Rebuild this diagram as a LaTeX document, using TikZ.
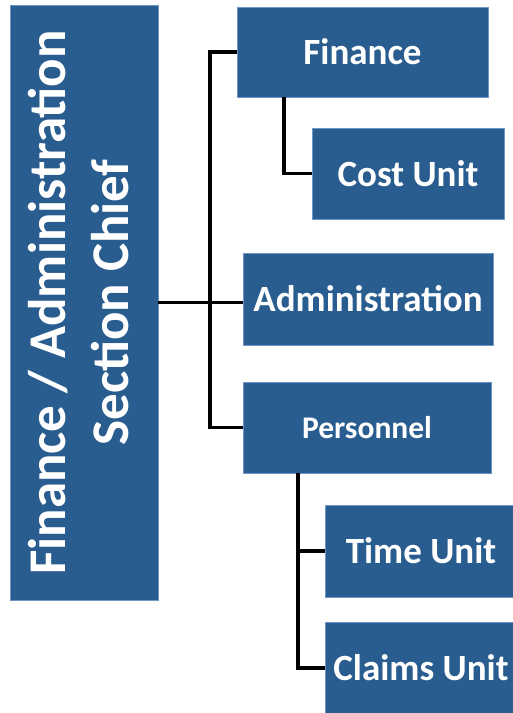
\documentclass[tikz,border=0pt]{standalone}
\usepackage{fontspec}
\setmainfont{Carlito}
\usepackage{xcolor}
\definecolor{boxblue}{RGB}{42,93,143}
\definecolor{boxedge}{RGB}{110,150,195}

\begin{document}
\begin{tikzpicture}[x=1pt,y=-1pt,
        box/.style={draw=boxedge,line width=0.8pt,fill=boxblue,text=white,
            font=\bfseries\fontsize{37}{42}\selectfont,inner sep=0pt},
        link/.style={line width=3.5pt,line join=miter}]
        \useasboundingbox (0,0) rectangle (513,713);

        % chief, text turned up the left side
        \node[box,minimum width=148pt,minimum height=595pt,
            font=\bfseries\fontsize{53}{65}\selectfont] (chief) at (84,302.5)
            {\rotatebox{90}{\begin{tabular}{@{}c@{}}Finance / Administration\\[-2pt]Section Chief\end{tabular}}};

        \node[box,minimum width=251pt,minimum height=90pt] (fin) at (362.5,52) {Finance};
        \node[box,minimum width=192pt,minimum height=91pt] (cost) at (408,173.5) {Cost Unit};
        \node[box,minimum width=250pt,minimum height=92pt] (admin) at (368,299) {Administration};
        \node[box,minimum width=248pt,minimum height=91pt,
            font=\bfseries\fontsize{31.5}{36}\selectfont] (pers) at (367,427.5) {Personnel};
        \node[box,minimum width=192pt,minimum height=92pt] (time) at (421,551) {Time Unit};
        \node[box,minimum width=192pt,minimum height=92pt] (claims) at (421,668) {Claims Unit};

        \coordinate (trunk) at (210,302);
        \coordinate (finx) at (284,0);
        \coordinate (persx) at (298,0);

        \draw[link] (chief.east) -- (chief.east -| admin.west);
        \draw[link] (fin.west) -- (fin.west -| trunk) -- (pers.west -| trunk) -- (pers.west);
        \draw[link] (finx |- fin.south) |- (cost.west);
        \draw[link] (persx |- pers.south) |- (claims.west);
        \draw[link] (time.west -| persx) -- (time.west);

    \end{tikzpicture}
\end{document}
